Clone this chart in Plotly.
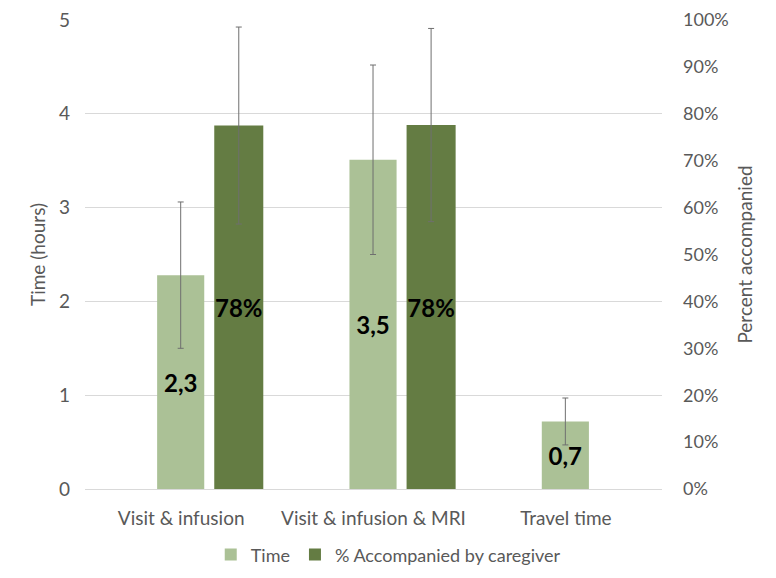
import plotly.graph_objects as go

categories = ["Visit &amp; infusion", "Visit &amp; infusion &amp; MRI", "Travel time"]
time_hours = [2.28, 3.51, 0.72]
time_err = [0.78, 1.01, 0.25]
pct_accompanied = [77.5, 77.6, None]
pct_err = [21.0, 20.6, None]

left_ticks = [0, 1, 2, 3, 4, 5]
right_ticks = [0, 10, 20, 30, 40, 50, 60, 70, 80, 90, 100]
right_tick_labels = ["0%", "10%", "20%", "30%", "40%", "50%", "60%", "70%", "80%", "90%", "100%"]

LIGHT = "rgb(171,193,150)"
DARK = "rgb(100,124,67)"
GREY = "#595959"
FONT = "Lato, Calibri, sans-serif"

fig = go.Figure()
fig.add_trace(go.Bar(
    x=categories, y=time_hours, name="Time",
    marker=dict(color=LIGHT, line=dict(width=0)),
    width=0.245, offset=-0.125,
    error_y=dict(type="data", array=time_err, visible=True, color="#6f6f6f", thickness=1, width=3),
    texttemplate="%{y:.1f}", textposition="inside", insidetextanchor="middle",
    textangle=0, constraintext="none",
    insidetextfont=dict(family=FONT, size=24, color="black", weight="bold"),
    yaxis="y",
))
fig.add_trace(go.Bar(
    x=categories, y=pct_accompanied, name="% Accompanied by caregiver",
    marker=dict(color=DARK, line=dict(width=0)),
    width=0.255, offset=0.172,
    error_y=dict(type="data", array=pct_err, visible=True, color="#6f6f6f", thickness=1, width=3),
    texttemplate="%{y:.0f}%", textposition="inside", insidetextanchor="middle",
    textangle=0, constraintext="none",
    insidetextfont=dict(family=FONT, size=24, color="black", weight="bold"),
    yaxis="y2",
))

fig.update_layout(
    width=776, height=578,
    margin=dict(l=77, r=122, t=12, b=97, autoexpand=False),
    paper_bgcolor="white", plot_bgcolor="white",
    separators=", ",
    barmode="overlay",
    font=dict(family=FONT, size=18, color=GREY),
    showlegend=True,
    legend=dict(orientation="h", xref="container", yref="container",
                x=0.49, xanchor="center", y=0.054, yanchor="middle",
                font=dict(size=18, color=GREY), itemwidth=30,
                traceorder="normal"),
    xaxis=dict(type="category", range=[-0.5, 2.5], showgrid=False, automargin=False,
               showline=True, linecolor="#d9d9d9", linewidth=1,
               ticks="", tickfont=dict(size=19, color=GREY), ticklabelstandoff=12),
    yaxis=dict(range=[0, 5], tickvals=left_ticks, showgrid=True, gridcolor="#d9d9d9",
               zeroline=False, showline=False, ticks="", automargin=False,
               ticklabeloverflow="allow",
               tickfont=dict(size=19, color=GREY), ticklabelstandoff=14,
               title=dict(text="Time (hours)", font=dict(size=19, color=GREY), standoff=8)),
    yaxis2=dict(range=[0, 100], tickvals=right_ticks, ticktext=right_tick_labels,
                overlaying="y", side="right", automargin=False,
                ticklabeloverflow="allow",
                showgrid=False, zeroline=False, showline=False, ticks="",
                tickfont=dict(size=18, color=GREY), ticklabelstandoff=20,
                title=dict(text="Percent accompanied", font=dict(size=19, color=GREY), standoff=10)),
)

fig.write_html("out.html")
